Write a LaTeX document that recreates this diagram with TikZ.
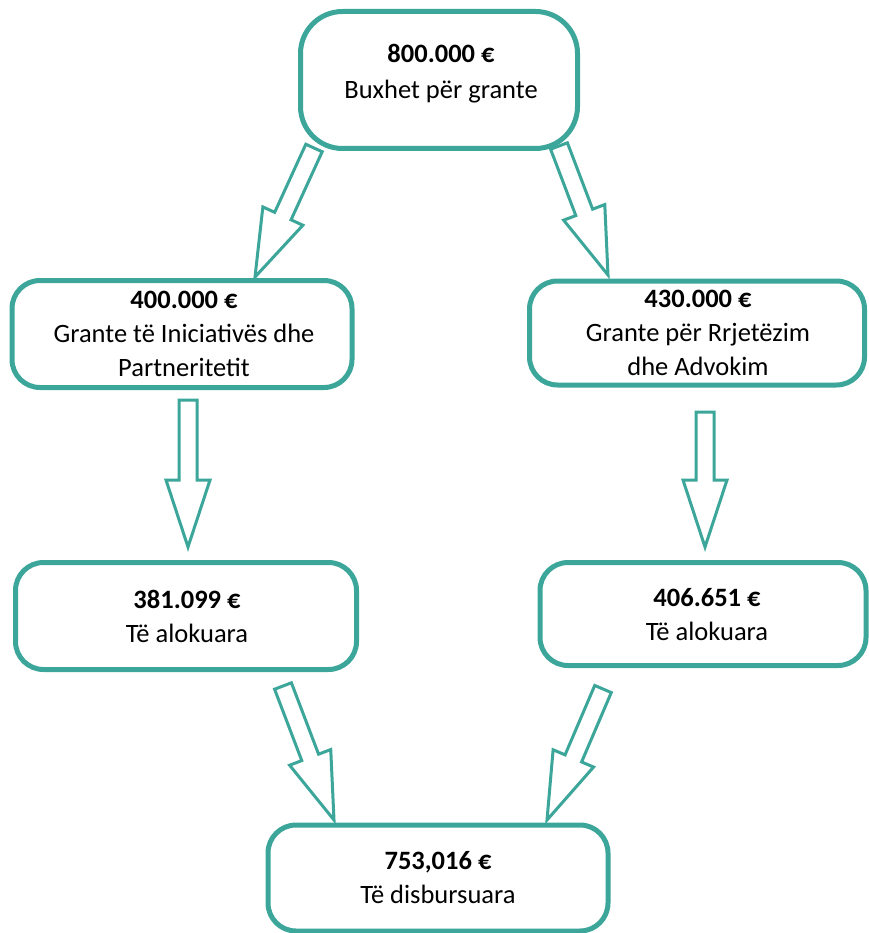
\documentclass[tikz,border=0pt]{standalone}
\usepackage{fontspec}
\setmainfont{Carlito}
\usetikzlibrary{calc}
\definecolor{tealc}{RGB}{59,166,153}
\tikzset{
  box/.style={draw=tealc, line width=5pt, fill=white, inner sep=0pt, rounded corners=28pt},
  txt/.style={align=center, inner sep=0pt, font=\fontsize{26.5}{34}\selectfont},
  blk/.style={draw=tealc, line width=3pt, fill=white, line join=miter},
}
% block arrow from #1 (tail) to #2 (tip)
\newcommand\blkarrow[2]{%
  \coordinate (hb) at ($(#2)!67pt!(#1)$);
  \draw[blk] ($(#1)!9pt!90:(#2)$) -- ($(hb)!9pt!-90:(#1)$) -- ($(hb)!22pt!-90:(#1)$)
    -- (#2) -- ($(hb)!22pt!90:(#1)$) -- ($(hb)!9pt!90:(#1)$) -- ($(#1)!9pt!-90:(#2)$) -- cycle;
}
\begin{document}
\begin{tikzpicture}[x=1pt,y=-1pt]
\useasboundingbox (0,0) rectangle (868,933);
% boxes
\node[box, rounded corners=42pt, minimum width=277pt, minimum height=137pt] (b1) at (439,80) {};
\node[box, minimum width=340pt, minimum height=107pt] (b2) at (182,334) {};
\node[box, minimum width=335pt, minimum height=104pt] (b3) at (697,333) {};
\node[box, minimum width=341pt, minimum height=107pt] (b4) at (186,616) {};
\node[box, minimum width=326pt, minimum height=103pt] (b5) at (703,614) {};
\node[box, minimum width=340pt, minimum height=106pt] (b6) at (438,878) {};
% texts
\node[txt, font=\fontsize{26.5}{36}\selectfont] (l1) at (441,74) {\textbf{800.000 €}\\Buxhet për grante};
\node[txt] (l2) at (184,334) {\textbf{400.000 €}\\Grante të Iniciativës dhe\\Partneritetit};
\node[txt] (l3) at (698,333) {\textbf{430.000 €}\\Grante për Rrjetëzim\\dhe Advokim};
\node[txt] (l4) at (187,616) {\textbf{381.099 €}\\Të alokuara};
\node[txt] (l5) at (707,615) {\textbf{406.651 €}\\Të alokuara};
\node[txt] (l6) at (438,878) {\textbf{753,016 €}\\Të disbursuara};
% arrow endpoints
\coordinate (t1) at (314,148); \coordinate (p1) at (255,277);
\coordinate (t2) at (559,146); \coordinate (p2) at (608,275);
\coordinate (t3) at (188,400); \coordinate (p3) at (188,547);
\coordinate (t4) at (705,412); \coordinate (p4) at (705,547);
\coordinate (t5) at (283,686); \coordinate (p5) at (334,820);
\coordinate (t6) at (603,689); \coordinate (p6) at (547,820);
\blkarrow{t1}{p1}
\blkarrow{t2}{p2}
\blkarrow{t3}{p3}
\blkarrow{t4}{p4}
\blkarrow{t5}{p5}
\blkarrow{t6}{p6}
\end{tikzpicture}
\end{document}
